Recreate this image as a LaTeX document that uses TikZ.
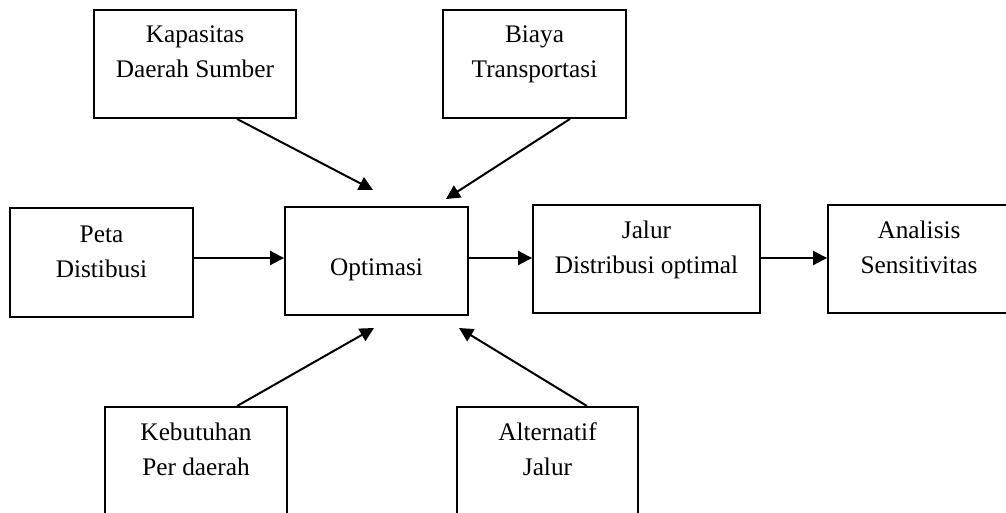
\documentclass[tikz,border=0pt]{standalone}
\usepackage{fontspec}
\setmainfont{Liberation Serif}
\usetikzlibrary{arrows.meta,calc}
\newcommand{\boxtext}[4]{\parbox[c][#2pt][t]{#1pt}{\centering\rule{0pt}{#3pt}#4\par}}
\tikzset{
  box/.style={draw, line width=1.9pt, inner sep=0pt, font=\fontsize{25.3}{35}\selectfont},
  arr/.style={line width=2pt, -{Triangle[length=14pt,width=14pt]}}
}
\begin{document}
\begin{tikzpicture}[x=1pt,y=-1pt]
\clip (0,0) rectangle (1006,513);
\fill[white] (0,0) rectangle (1006,513);
% boxes
\node[box] (kap)   at (195,64)    {\boxtext{202}{108}{33}{Kapasitas\\Daerah Sumber}};
\node[box] (biaya) at (534.5,64)  {\boxtext{183}{108}{33}{Biaya\\Transportasi}};
\node[box] (peta)  at (101.5,262.5) {\boxtext{183}{109}{34}{Peta\\Distibusi}};
\node[box] (opt)   at (376.5,261) {\boxtext{183}{108}{68}{Optimasi}};
\node[box] (jalur) at (646.5,259) {\boxtext{227}{108}{33}{Jalur\\Distribusi optimal}};
\node[box] (anal)  at (919,259)   {\boxtext{182}{108}{33}{Analisis\\Sensitivitas}};
\node[box] (keb)   at (196,461)   {\boxtext{182}{108}{33}{Kebutuhan\\Per daerah}};
\node[box] (alt)   at (547.5,461) {\boxtext{181}{108}{33}{Alternatif\\Jalur}};
% free arrow ends
\coordinate (kapEnd) at (373,190);
\coordinate (biayaEnd) at (446,199);
\coordinate (kebEnd) at (374,328);
\coordinate (altEnd) at (459,328);
\coordinate (mid) at (0,258);
% connectors
\draw[arr] ($(kap.south)+(42,0)$) -- (kapEnd);
\draw[arr] ($(biaya.south)+(35.5,0)$) -- (biayaEnd);
\draw[arr] ($(keb.north)+(41,0)$) -- (kebEnd);
\draw[arr] ($(alt.north)+(39.5,0)$) -- (altEnd);
\draw[arr] (peta.east |- mid) -- (opt.west |- mid);
\draw[arr] (opt.east |- mid) -- (jalur.west |- mid);
\draw[arr] (jalur.east |- mid) -- (anal.west |- mid);
\end{tikzpicture}
\end{document}
